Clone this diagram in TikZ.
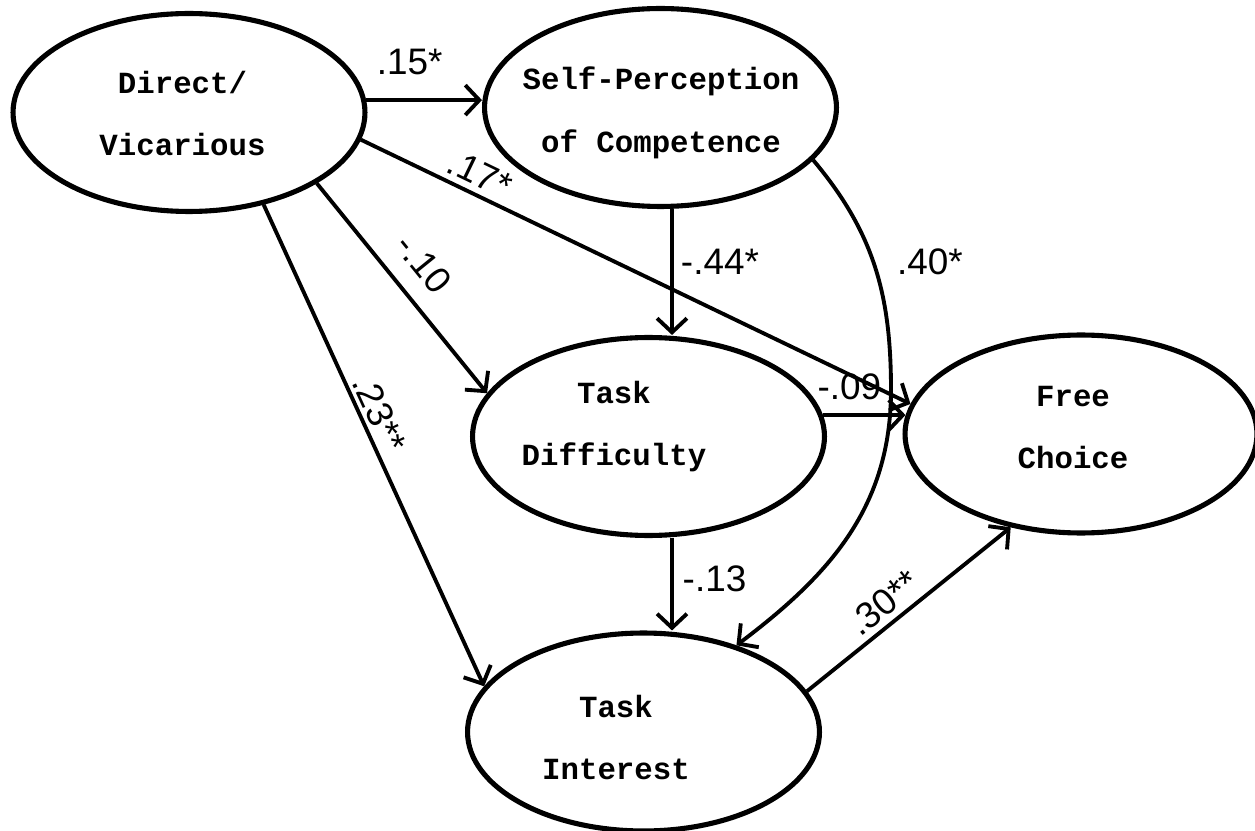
\documentclass[tikz,border=0pt]{standalone}
\usepackage{fontspec}
\setmainfont{Liberation Sans}
\newfontfamily\twfont{Liberation Mono}
\usetikzlibrary{shapes.geometric,arrows.meta}
\begin{document}
\begin{tikzpicture}[x=0.02cm,y=-0.02cm,
  ell/.style={draw, ellipse, line width=2.9pt, minimum width=7.04cm, minimum height=3.96cm, inner sep=0pt},
  txt/.style={font=\twfont\bfseries\fontsize{17.5}{35.7}\selectfont, align=center, inner sep=0pt},
  lab/.style={font=\fontsize{21}{23}\selectfont, inner sep=2pt},
  arr/.style={line width=2.2pt, -{Straight Barb[length=8pt,width=17pt]}},
]
\useasboundingbox (0,0) rectangle (1255,831);

% ellipses
\node[ell] (dv) at (189,112.5) {};
\node[ell] (sp) at (660.5,107.5) {};
\node[ell] (td) at (648.5,436.5) {};
\node[ell] (fc) at (1081,434) {};
\node[ell] (ti) at (643.5,732) {};

% texts
\node[txt] (tdv) at (182.5,113.5) {Direct/\\Vicarious};
\node[txt] (tsp) at (661,113) {Self-Perception\\of Competence};
\node[txt] (ttd) at (614,426.5) {Task\\Difficulty};
\node[txt] (tfc) at (1073,427.5) {Free\\Choice};
\node[txt] (tti) at (616,737.5) {Task\\Interest};

% helper coordinates
\coordinate (vx) at (672,0);
\coordinate (w40) at (891,390);

% connectors
\draw[arr] (dv.4) -- (dv.4 -| sp.west)
  node[lab, pos=0.375, above=11pt] (l15) {.15*};
\draw[arr] (dv.-9) -- (fc.170)
  node[lab, sloped, pos=0.2, above=1.5pt] (l17) {.17*};
\draw[arr] (dv.-29) -- (td.165)
  node[lab, sloped, pos=0.48, above=8pt] (l10) {-.10};
\draw[arr] (dv.-51) -- (ti.164)
  node[lab, sloped, pos=0.45, above=0pt] (l23) {.23**};
\draw[arr] (sp.south -| vx) -- (td.north -| vx)
  node[lab, pos=0.42, right=2pt] (l44) {-.44*};
\draw[arr] (td.south -| vx) -- (ti.north -| vx)
  node[lab, pos=0.44, right=3pt] (l13) {-.13};
\draw[arr] (sp.-19) to[out=-50,in=90] (w40) to[out=-90,in=37] (ti.43);
\node[lab] (l40) at (930,262) {.40*};
\draw[arr] (td.7) -- (td.7 -| fc.174)
  node[lab, pos=0.32, above=5.5pt] (l09) {-.09};
\draw[arr] (ti.14) -- (fc.233)
  node[lab, sloped, pos=0.44, above=1.5pt] (l30) {.30**};
\end{tikzpicture}
\end{document}
